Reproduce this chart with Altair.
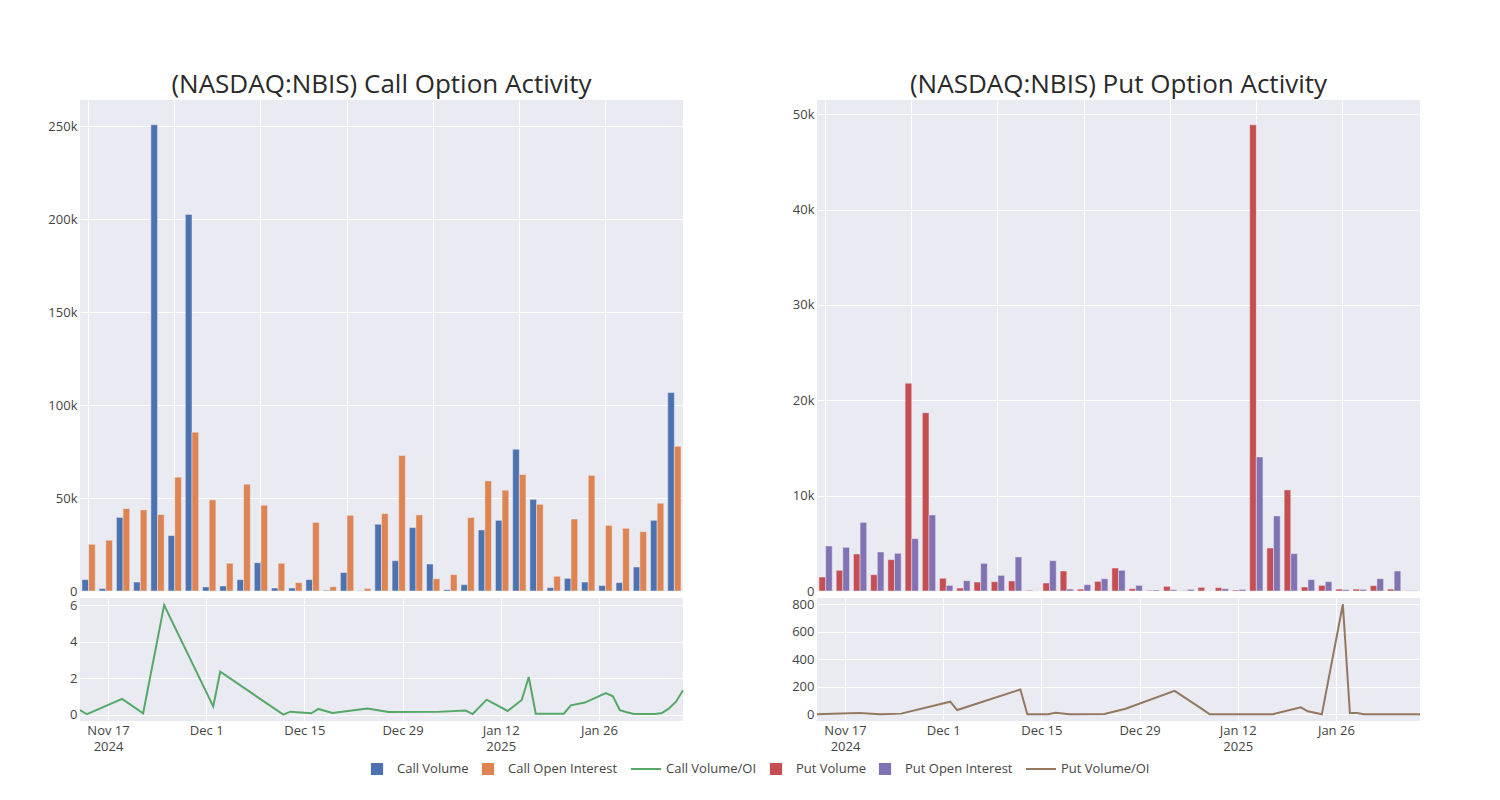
import altair as alt
import pandas as pd

# ---------------- data ----------------
dates = ["2024-11-13", "2024-11-14", "2024-11-19", "2024-11-22", "2024-11-25",
         "2024-12-02", "2024-12-03", "2024-12-12", "2024-12-13", "2024-12-16",
         "2024-12-17", "2024-12-19", "2024-12-24", "2024-12-27", "2025-01-03",
         "2025-01-07", "2025-01-08", "2025-01-10", "2025-01-13", "2025-01-15",
         "2025-01-16", "2025-01-17", "2025-01-21", "2025-01-22", "2025-01-24",
         "2025-01-27", "2025-01-28", "2025-01-29", "2025-01-30", "2025-01-31",
         "2025-02-03", "2025-02-04", "2025-02-05", "2025-02-06", "2025-02-07"]

call_volume = [6100, 1300, 39600, 4800, 250700, 29800, 202500, 2200, 2700, 6100,
               15200, 1600, 1600, 6100, 400, 9900, 100, 35900, 16300, 34100,
               14500, 700, 3400, 32800, 38000, 76200, 49300, 1800, 6800, 4800,
               2900, 4500, 12900, 38000, 106700]
call_oi = [25100, 27300, 44300, 43600, 41100, 61200, 85400, 49000, 14900, 57400,
           46100, 14900, 4500, 36900, 2300, 40700, 1300, 41600, 72800, 40900,
           6600, 8800, 39500, 59200, 54200, 62600, 46600, 7900, 38700, 62200,
           35300, 33700, 31900, 47200, 77800]
call_ratio = [0.26, 0.04, 0.88, 0.09, 6.02, 0.47, 2.37, 0.02, 0.18, 0.09,
              0.33, 0.11, 0.36, 0.16, 0.17, 0.24, 0.05, 0.84, 0.22, 0.82,
              2.08, 0.07, 0.07, 0.53, 0.68, 1.2, 1.02, 0.26, 0.15, 0.05,
              0.06, 0.11, 0.36, 0.73, 1.35]

put_volume = [1470, 2170, 3880, 1710, 3290, 21800, 18700, 1330, 310, 940,
              980, 1050, 70, 840, 2100, 200, 1010, 2410, 240, 70,
              490, 30, 380, 350, 100, 48900, 4510, 10600, 420, 590,
              200, 200, 560, 200, 30]
put_oi = [4720, 4580, 7200, 4090, 3950, 5490, 7970, 590, 1080, 2900,
          1640, 3570, 0, 3180, 200, 660, 1290, 2170, 590, 100,
          140, 170, 0, 240, 170, 14060, 7870, 3920, 1190, 980,
          140, 170, 1290, 2100, 30]
put_ratio = [0, 3, 10, 0, 5, 92, 31, 181, 0, 0,
             12, 0, 2, 40, 170, 36, 0, 0, 0, 0,
             0, 0, 51, 22, 0, 800, 10, 10, 0, 0,
             0, 0, 0, 0, 0]

names = ["Call Volume", "Call Open Interest", "Call Volume/OI",
         "Put Volume", "Put Open Interest", "Put Volume/OI"]
colors = ["#4C72B0", "#DD8452", "#55A868", "#C44E52", "#8172B3", "#937860"]
square = "M-0.85,-0.85H0.85V0.85H-0.85Z"
stroke_line = "M-2.5,0H2.5"
shapes = [square, square, stroke_line, square, square, stroke_line]

call_ticks = [0, 50000, 100000, 150000, 200000, 250000]
put_ticks = [0, 10000, 20000, 30000, 40000, 50000]

FONT = "Open Sans"
BG = "#EAEAF2"
TXT = "#444444"

bar_names = [names[0], names[1], names[3], names[4]]
bar_colors = [colors[0], colors[1], colors[3], colors[4]]
bar_color_scale = alt.Scale(domain=bar_names, range=bar_colors)


def bar_df(vol, oi, vname, oname):
    rows = []
    for d, v, o in zip(dates, vol, oi):
        rows.append({"date": d, "series": vname, "kind": "a", "value": v})
        rows.append({"date": d, "series": oname, "kind": "b", "value": o})
    return pd.DataFrame(rows)


def line_df(ratio, name):
    return pd.DataFrame({"date": [d + "T00:00:00" for d in dates],
                         "value": ratio, "series": name})


def bar_chart(df, ymax, yvals, title):
    return alt.Chart(df, title=alt.TitleParams(
        title, fontSize=26, font=FONT, fontWeight="normal", color="#2a2a2a",
        anchor="middle", offset=-24, baseline="bottom")
    ).mark_bar(stroke=BG, strokeWidth=0.5).encode(
        x=alt.X("date:N", sort=dates,
                scale=alt.Scale(paddingInner=0.23, paddingOuter=0.115),
                axis=alt.Axis(values=[dates[i] for i in range(0, 35, 5)],
                              labels=False, ticks=False, domain=False,
                              grid=True, title=None, bandPosition=0.5,
                              minExtent=0, maxExtent=0)),
        xOffset=alt.XOffset("kind:N", scale=alt.Scale(domain=["a", "b"])),
        y=alt.Y("value:Q", scale=alt.Scale(domain=[0, ymax], nice=False),
                axis=alt.Axis(values=yvals, title=None,
                              labelExpr="datum.value == 0 ? '0' : (datum.value / 1000) + 'k'",
                              minExtent=40, maxExtent=40)),
        color=alt.Color("series:N", scale=bar_color_scale, legend=None),
    ).properties(width=603, height=491)


x_dom = [alt.DateTime(year=2024, month=11, date=13),
         alt.DateTime(year=2025, month=2, date=7)]
x_ticks = [alt.DateTime(year=2024, month=11, date=17),
           alt.DateTime(year=2024, month=12, date=1),
           alt.DateTime(year=2024, month=12, date=15),
           alt.DateTime(year=2024, month=12, date=29),
           alt.DateTime(year=2025, month=1, date=12),
           alt.DateTime(year=2025, month=1, date=26)]
label_expr = ("[timeFormat(datum.value, '%b %-d'), "
              "(timeFormat(datum.value, '%b %-d') == 'Nov 17' || "
              "timeFormat(datum.value, '%b %-d') == 'Jan 12') ? "
              "timeFormat(datum.value, '%Y') : '']")

x_enc = alt.X("date:T", scale=alt.Scale(domain=x_dom),
              axis=alt.Axis(values=x_ticks, labelExpr=label_expr, title=None,
                            grid=True, ticks=False, domain=False,
                            labelPadding=3, labelLineHeight=16))


def y_enc(field, dom, yvals):
    return alt.Y(field, scale=alt.Scale(domain=dom, nice=False, zero=False),
                 axis=alt.Axis(values=yvals, title=None,
                               minExtent=40, maxExtent=40))


def line_chart(df, dom, yvals, col):
    return alt.Chart(df).mark_line(strokeWidth=2, color=col).encode(
        x=x_enc, y=y_enc("value:Q", dom, yvals),
    ).properties(width=603, height=123)


leg = alt.Legend(title=None, orient="none", legendX=290, legendY=662,
                 direction="horizontal", gridAlign="none",
                 labelFont=FONT, labelFontSize=13, labelColor=TXT,
                 symbolSize=144, symbolStrokeWidth=2, symbolOpacity=1,
                 labelOffset=13, columnPadding=9)

put_dom = [-48.6, 845.7]
put_yvals = [0, 200, 400, 600, 800]

# legend carrier: one point per series, pushed far outside the y domain and clipped
legend_df = pd.DataFrame({"date": [dates[0] + "T00:00:00"] * len(names),
                          "series": names, "value": [0] * len(names)})
legend_layer = alt.Chart(legend_df).transform_calculate(
    off="datum.value + 100000"
).mark_point(filled=True, opacity=1, clip=True).encode(
    x=x_enc,
    y=y_enc("off:Q", put_dom, put_yvals),
    fill=alt.Fill("series:N", scale=alt.Scale(domain=names, range=colors), legend=leg),
    stroke=alt.Stroke("series:N", scale=alt.Scale(domain=names, range=colors), legend=leg),
    shape=alt.Shape("series:N", scale=alt.Scale(domain=names, range=shapes), legend=leg),
)

call_bars = bar_chart(bar_df(call_volume, call_oi, "Call Volume", "Call Open Interest"),
                      264000, call_ticks, "(NASDAQ:NBIS) Call Option Activity")
put_bars = bar_chart(bar_df(put_volume, put_oi, "Put Volume", "Put Open Interest"),
                     51500, put_ticks, "(NASDAQ:NBIS) Put Option Activity")

call_line = line_chart(line_df(call_ratio, "Call Volume/OI"), [-0.33, 6.41],
                       [0, 2, 4, 6], colors[2])
put_line = alt.layer(
    line_chart(line_df(put_ratio, "Put Volume/OI"), put_dom, put_yvals, colors[5]),
    legend_layer,
)

left = alt.vconcat(call_bars, call_line, spacing=-1)
right = alt.vconcat(put_bars, put_line, spacing=-1)

chart = alt.hconcat(left, right, spacing=90).properties(
    padding={"left": 32, "top": 64, "right": 5, "bottom": 5}
).configure(
    font=FONT
).configure_view(
    fill=BG, stroke=None
).configure_axis(
    labelFont=FONT, labelFontSize=13, labelColor=TXT,
    gridColor="white", gridWidth=1, gridOpacity=1,
    domain=False, ticks=False, labelPadding=3
)

chart.save("out.html", embed_options={"renderer": "svg", "actions": False})
